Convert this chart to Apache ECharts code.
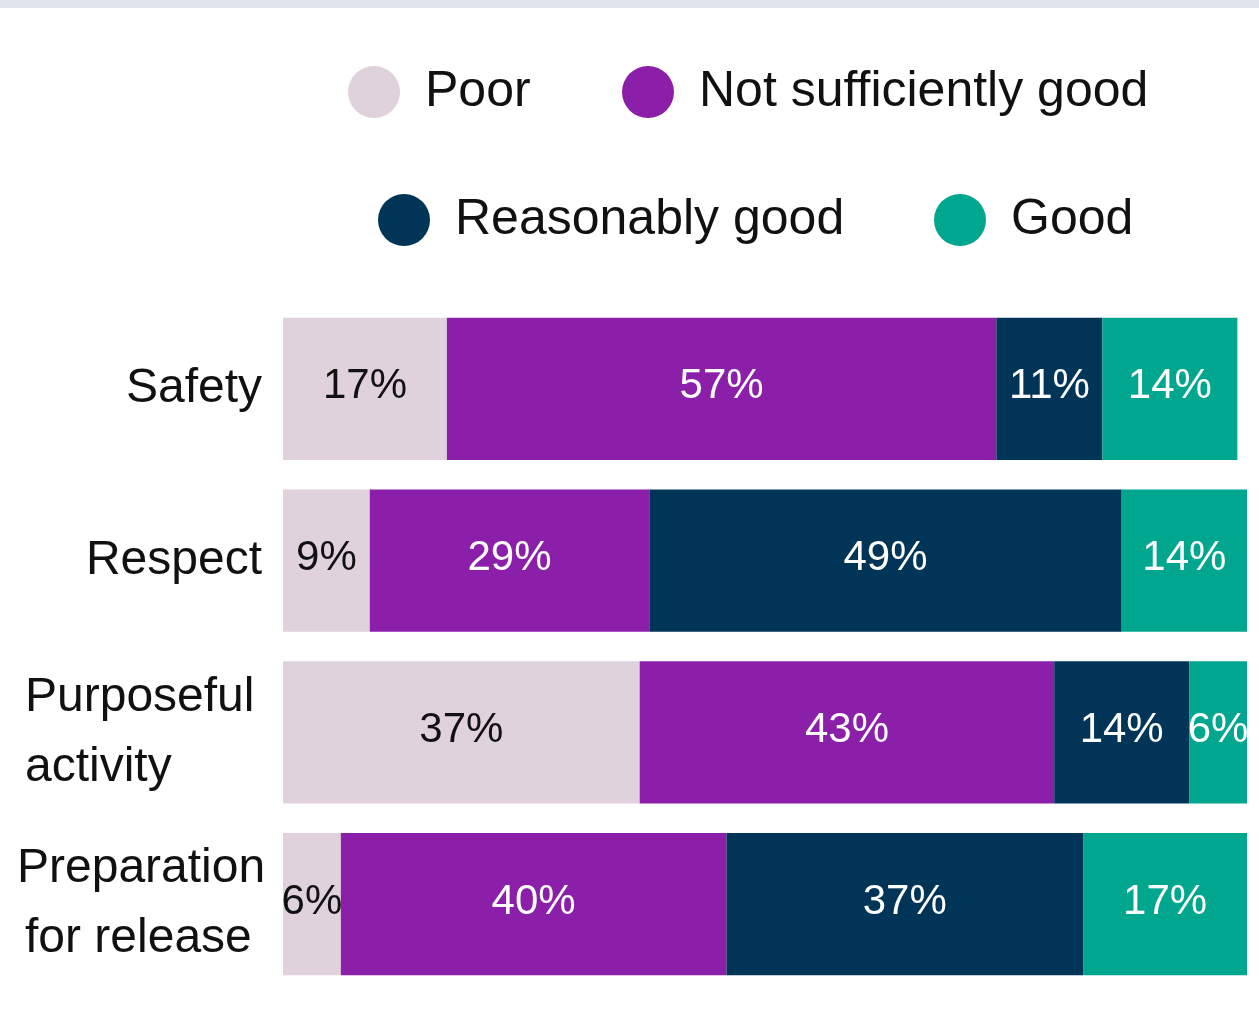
<!DOCTYPE html>
<html>
<head>
<meta charset="utf-8">
<script src="https://cdn.jsdelivr.net/npm/echarts@6/dist/echarts.min.js"></script>
<style>
  html, body { margin: 0; padding: 0; background: #ffffff; }
  #chart { width: 1259px; height: 1032px; }
</style>
</head>
<body>
<div id="chart"></div>
<script>
// Ratings by area (percent)
const categories = ['Safety', 'Respect', 'Purposeful activity', 'Preparation for release'];
const poor = [17, 9, 37, 6];
const notSufficientlyGood = [57, 29, 43, 40];
const reasonablyGood = [11, 49, 14, 37];
const good = [14, 14, 6, 17];

const seriesNames = ['Poor', 'Not sufficiently good', 'Reasonably good', 'Good'];
const seriesColors = ['#e0d2dc', '#8b1fa9', '#003557', '#00a68d'];
const labelColors = ['#111111', '#ffffff', '#ffffff', '#ffffff'];
const seriesData = [poor, notSufficientlyGood, reasonablyGood, good];

const FONT = '"Liberation Sans", Arial, sans-serif';

const chart = echarts.init(document.getElementById('chart'), null, { renderer: 'canvas' });

// One legend per entry so each swatch sits where it should in the two rows
const legendSpots = [
  { left: 348, top: 66 },
  { left: 622, top: 66 },
  { left: 378, top: 194 },
  { left: 934, top: 194 }
];
const legends = seriesNames.map((name, i) => ({
  data: [name],
  left: legendSpots[i].left,
  top: legendSpots[i].top,
  orient: 'horizontal',
  icon: 'circle',
  itemWidth: 52,
  itemHeight: 52,
  padding: 0,
  selectedMode: false,
  textStyle: {
    fontFamily: FONT,
    fontSize: 50,
    color: '#111111',
    padding: [0, 0, 0, 20]
  }
}));

const labelFormatter = (value) => {
  if (value === 'Purposeful activity') return '{l|Purposeful}\n{l|activity}';
  if (value === 'Preparation for release') return '{p|Preparation}\n{q|for release}';
  return '{r|' + value + '}';
};

const option = {
  animation: false,
  backgroundColor: '#ffffff',
  graphic: [{
    type: 'rect',
    left: 0,
    top: 0,
    shape: { width: 1259, height: 8 },
    style: { fill: '#dfe4ed' }
  }],
  legend: legends,
  grid: { left: 283, right: 12, top: 303, bottom: 42, containLabel: false },
  xAxis: {
    type: 'value',
    min: 0,
    max: 100,
    show: false
  },
  yAxis: {
    type: 'category',
    data: categories,
    inverse: true,
    axisLine: { show: false },
    axisTick: { show: false },
    splitLine: { show: false },
    axisLabel: {
      margin: 21,
      align: 'right',
      formatter: labelFormatter,
      rich: {
        r: { fontFamily: FONT, fontSize: 48, color: '#111111', lineHeight: 70 },
        l: { fontFamily: FONT, fontSize: 48, color: '#111111', lineHeight: 70, width: 237, align: 'left' },
        p: { fontFamily: FONT, fontSize: 48, color: '#111111', lineHeight: 70, width: 245, align: 'left' },
        q: { fontFamily: FONT, fontSize: 48, color: '#111111', lineHeight: 70, width: 237, align: 'left', padding: [0, 0, 0, 8] }
      }
    }
  },
  series: seriesNames.map((name, i) => ({
    name: name,
    type: 'bar',
    stack: 'total',
    barCategoryGap: '17.3%',
    data: seriesData[i],
    itemStyle: { color: seriesColors[i] },
    label: {
      show: true,
      position: 'inside',
      formatter: '{c}%',
      fontFamily: FONT,
      fontSize: 42,
      color: labelColors[i],
      offset: [0, -2]
    }
  }))
};

chart.setOption(option);
</script>
</body>
</html>
